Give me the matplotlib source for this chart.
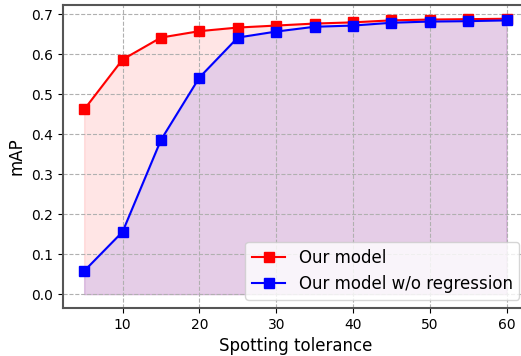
import numpy as np
import matplotlib
matplotlib.use("Agg")
import matplotlib.pyplot as plt

tolerance = [5, 10, 15, 20, 25, 30, 35, 40, 45, 50, 55, 60]
map_model = [0.462, 0.587, 0.642, 0.658, 0.667, 0.672, 0.677, 0.680, 0.685, 0.687, 0.688, 0.689]
map_noreg = [0.058, 0.156, 0.386, 0.542, 0.642, 0.657, 0.669, 0.672, 0.679, 0.682, 0.683, 0.685]

fig = plt.figure(figsize=(5.21, 3.56), dpi=100)
ax = fig.add_axes([0.121, 0.135, 0.892, 0.851])

ax.plot(tolerance, map_model, color="red", marker="s", markersize=7, label="Our model")
ax.fill_between(tolerance, map_model, color="red", alpha=0.1)
ax.plot(tolerance, map_noreg, color="blue", marker="s", markersize=7, label="Our model w/o regression")
ax.fill_between(tolerance, map_noreg, color="blue", alpha=0.1)

ax.grid(True, linestyle="--", color="#b0b0b0")
ax.set_xlabel("Spotting tolerance", fontsize=12)
ax.set_ylabel("mAP", fontsize=12)
ax.tick_params(labelsize=10)
for s in ax.spines.values():
    s.set_color("#555555")
    s.set_linewidth(1.5)
ax.legend(loc="lower right", fontsize=12)

fig.savefig("out.png", dpi=100)
